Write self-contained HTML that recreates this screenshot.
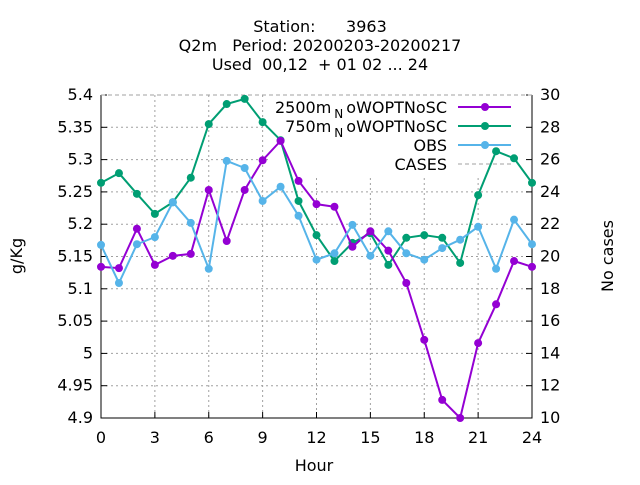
<!DOCTYPE html>
<html><head><meta charset="utf-8"><style>
body{margin:0;background:#fff}
svg{font-family:"DejaVu Sans","Liberation Sans",sans-serif;font-size:16px}
</style></head><body>
<svg id="chart" width="640" height="480">
<g text-anchor="middle">
<text x="320" y="32" xml:space="preserve">Station:      3963</text>
<text x="320" y="51" xml:space="preserve">Q2m   Period: 20200203-20200217</text>
<text x="320" y="70" xml:space="preserve">Used  00,12  + 01 02 ... 24</text>
</g>
<g id="grid"></g>
<g id="axes"></g>
<g id="series"></g>
<text x="314" y="471" text-anchor="middle">Hour</text>
<text transform="translate(22,256) rotate(-90)" text-anchor="middle">g/Kg</text>
<text transform="translate(613,256) rotate(-90)" text-anchor="middle">No cases</text>
<g id="legend"></g>
</svg>
<script>
const hours=[0,1,2,3,4,5,6,7,8,9,10,11,12,13,14,15,16,17,18,19,20,21,22,23,24];
const s2500=[5.134,5.132,5.193,5.137,5.151,5.154,5.253,5.174,5.253,5.299,5.329,5.267,5.231,5.227,5.165,5.189,5.159,5.109,5.021,4.928,4.900,5.016,5.076,5.143,5.134];
const s750=[5.264,5.279,5.247,5.216,5.234,5.272,5.355,5.386,5.394,5.358,5.330,5.236,5.183,5.143,5.171,5.186,5.137,5.179,5.183,5.179,5.140,5.245,5.313,5.302,5.264];
const obs=[5.168,5.109,5.169,5.180,5.234,5.202,5.131,5.298,5.287,5.236,5.258,5.213,5.145,5.155,5.199,5.151,5.189,5.155,5.145,5.163,5.176,5.196,5.131,5.207,5.169];
const cases=[30,30,30,30,30,30,30,30,30,30,30,30,30,30,30,30,30,30,30,30,30,30,30,30,30];
const yTicks=["4.9","4.95","5","5.05","5.1","5.15","5.2","5.25","5.3","5.35","5.4"];
const y2Ticks=["10","12","14","16","18","20","22","24","26","28","30"];
const xTicks=[0,3,6,9,12,15,18,21,24];
const L=101,R=532,T=95,B=418;
const X=h=>L+(h-0)/24*(R-L);
const Y=v=>B-(v-4.9)/0.5*(B-T);
const Y2=v=>B-(v-10)/20*(B-T);
const NS="http://www.w3.org/2000/svg";
function mk(p,t,a){const e=document.createElementNS(NS,t);for(const k in a)e.setAttribute(k,a[k]);p.appendChild(e);return e;}
const grid=document.getElementById('grid'),axes=document.getElementById('axes'),ser=document.getElementById('series'),leg=document.getElementById('legend');
yTicks.forEach((t,i)=>{const y=Y(+t);
 if(i>0&&i<yTicks.length-1){const x2=(y<178)?270:R;const g=mk(grid,'line',{x1:L,x2:x2,y1:y,y2:y,stroke:'#a0a0a0','stroke-dasharray':'2,3'});}
 mk(axes,'line',{x1:L,x2:L+6,y1:y,y2:y,stroke:'#000'});
 const tx=mk(axes,'text',{x:L-8,y:y+5,'text-anchor':'end'});tx.textContent=t;
 });
y2Ticks.forEach(t=>{const y=Y2(+t);mk(axes,'line',{x1:R-6,x2:R,y1:y,y2:y,stroke:'#000'});
 const tx=mk(axes,'text',{x:R+8,y:y+5,'text-anchor':'start'});tx.textContent=t;
 });
xTicks.forEach((h,i)=>{const x=X(h);
 if(i>0&&i<xTicks.length-1){const y1=(x>265)?178:T;const g=mk(grid,'line',{x1:x,x2:x,y1:y1,y2:B,stroke:'#a0a0a0','stroke-dasharray':'2,3'});}
 mk(axes,'line',{x1:x,x2:x,y1:B,y2:B-6,stroke:'#000'});
 const tx=mk(axes,'text',{x:x,y:B+25,'text-anchor':'middle'});tx.textContent=h;
 });
mk(axes,'path',{d:`M${L},${T}V${B}H${R}V${T}`,fill:'none',stroke:'#000'});
const cl=mk(ser,'polyline',{points:cases.map((v,i)=>X(hours[i])+','+Y2(v)).join(' '),fill:'none',stroke:'#a0a0a0','stroke-dasharray':'4,3'});

function series(arr,col,name){const g=mk(ser,'g',{});
 
 mk(g,'polyline',{points:arr.map((v,i)=>X(hours[i])+','+Y(v)).join(' '),fill:'none',stroke:col,'stroke-width':2});
 arr.forEach((v,i)=>{const c=mk(g,'circle',{cx:X(hours[i]),cy:Y(v),r:4,fill:col});
 });}
series(s750,'#009e73','series-750m');
series(s2500,'#9400d3','series-2500m');
series(obs,'#56b4e9','series-obs');
const items=[["2500m","oWOPTNoSC",'#9400d3'],["750m","oWOPTNoSC",'#009e73'],["OBS",null,'#56b4e9'],["CASES",null,'#a0a0a0']];
items.forEach((it,i)=>{const y=107+i*19;const g=mk(leg,'g',{});
 
 const t=mk(g,'text',{x:447,y:y+6,'text-anchor':'end'});
 if(it[1]){t.innerHTML=it[0]+'<tspan dx="3" dy="5" font-size="12">N</tspan><tspan dx="3" dy="-5">'+it[1]+'</tspan>';}else t.textContent=it[0];
 if(i<3){mk(g,'line',{x1:458,x2:511,y1:y,y2:y,stroke:it[2],'stroke-width':2});mk(g,'circle',{cx:485,cy:y,r:4,fill:it[2]});}
 else mk(g,'line',{x1:458,x2:511,y1:y,y2:y,stroke:it[2],'stroke-dasharray':'4,3'});});
</script>
</body></html>
